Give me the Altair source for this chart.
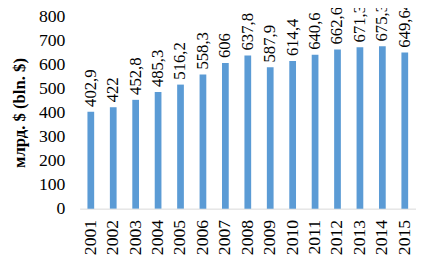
import altair as alt
import pandas as pd

years = ["2001", "2002", "2003", "2004", "2005", "2006", "2007", "2008",
         "2009", "2010", "2011", "2012", "2013", "2014", "2015"]
values = [402.9, 422, 452.8, 485.3, 516.2, 558.3, 606, 637.8,
          587.9, 614.4, 640.6, 662.6, 671.3, 675.3, 649.64]
labels = ["402,9", "422", "452,8", "485,3", "516,2", "558,3", "606", "637,8",
          "587,9", "614,4", "640,6", "662,6", "671,3", "675,3", "649,64"]

df = pd.DataFrame({"year": years, "value": values, "label": labels})

FONT = "Liberation Serif"

base = alt.Chart(df).encode(
    x=alt.X("year:N", sort=years,
            scale=alt.Scale(paddingInner=0.7, paddingOuter=0.35),
            axis=alt.Axis(title=None, labelAngle=-90, labelFont=FONT, labelFontSize=18,
                          labelColor="black", ticks=False, domainColor="#d9d9d9",
                          labelPadding=11, labelAlign="right", labelBaseline="middle")),
    y=alt.Y("value:Q", scale=alt.Scale(domain=[0, 800]),
            axis=alt.Axis(title="млрд. $ (bln. $)", values=list(range(0, 801, 100)),
                          titleFont=FONT, titleFontSize=17, titleFontWeight="bold",
                          titleColor="black", titlePadding=10,
                          labelFont=FONT, labelFontSize=18, labelColor="black",
                          labelPadding=15, grid=False, domain=False, ticks=False)),
)

bars = base.mark_bar(color="#5b9bd5")
text = base.mark_text(angle=270, align="left", baseline="middle", dx=5,
                      font=FONT, fontSize=17, color="black").encode(text="label:N")

chart = (bars + text).properties(
    width=343, height=196,
    autosize=alt.AutoSizeParams(type="none"),
    padding={"left": 73, "top": 6, "right": 0, "bottom": 60},
).configure_view(stroke=None)

chart.save("out.html", embed_options={"renderer": "svg", "actions": False})
